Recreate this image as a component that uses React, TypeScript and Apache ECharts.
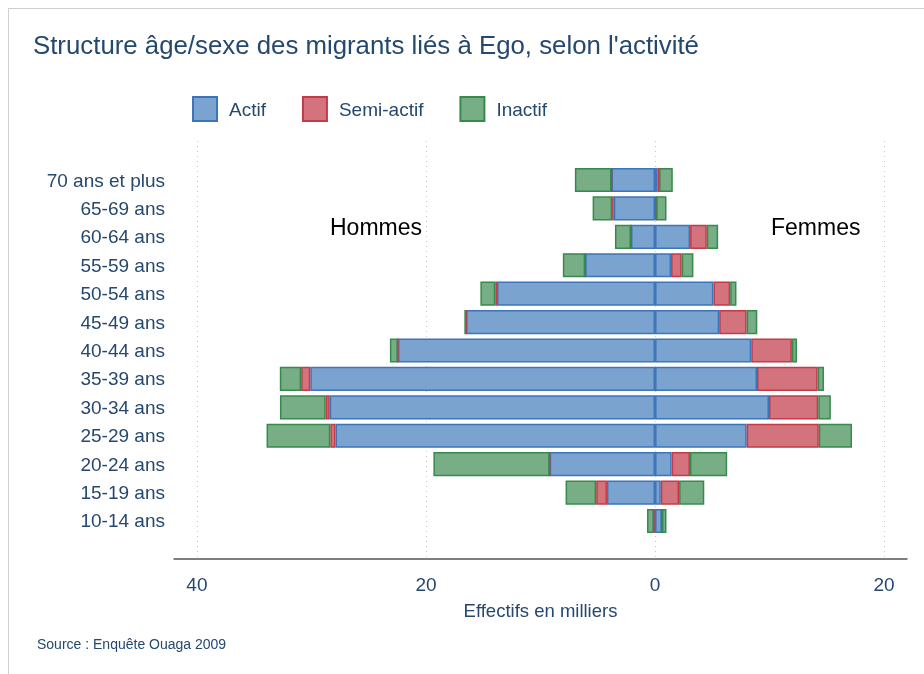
import React, { useEffect, useRef } from "react";
import * as echarts from "echarts";

const categories = [
  "10-14 ans", "15-19 ans", "20-24 ans", "25-29 ans", "30-34 ans", "35-39 ans",
  "40-44 ans", "45-49 ans", "50-54 ans", "55-59 ans", "60-64 ans", "65-69 ans", "70 ans et plus",
];
// Hommes (effectifs en milliers, affichés à gauche)
const hommesActif = [0.1, 4.2, 9.2, 27.9, 28.4, 30.1, 22.45, 16.5, 13.8, 6.1, 2.1, 3.6, 3.8];
const hommesSemi = [0, 0.94, 0, 0.45, 0.35, 0.8, 0, 0, 0.15, 0, 0, 0.15, 0];
const hommesInactif = [0.6, 2.67, 10.15, 5.57, 4.0, 1.86, 0.7, 0.15, 1.3, 1.95, 1.4, 1.7, 3.2];
// Femmes
const femmesActif = [0.6, 0.5, 1.45, 8.0, 9.95, 8.9, 8.4, 5.6, 5.1, 1.4, 3.06, 0.1, 0.2];
const femmesSemi = [0, 1.6, 1.6, 6.3, 4.3, 5.3, 3.55, 2.4, 1.46, 0.93, 1.46, 0, 0.15];
const femmesInactif = [0.4, 2.2, 3.25, 2.9, 1.1, 0.55, 0.45, 0.93, 0.55, 1.02, 0.99, 0.9, 1.2];

const xTicks = [-40, -20, 0, 20];
const xMin = -42;
const xMax = 22;

const TEXT = "#25486e";
const FONT = "'Liberation Sans', Arial, Helvetica, sans-serif";

const styles = {
  Actif: { color: "#7aa3cf", borderColor: "#3c75b9" },
  "Semi-actif": { color: "#d2737d", borderColor: "#c43a48" },
  Inactif: { color: "#77ae86", borderColor: "#368a4c" },
};

function barSeries(name: string, values: number[], sign: number) {
  const st = (styles as any)[name];
  return {
    type: "bar",
    name,
    stack: "pyramide",
    xAxisIndex: 0,
    yAxisIndex: 0,
    barCategoryGap: "15%",
    itemStyle: { color: st.color, borderColor: st.borderColor, borderWidth: 1.5 },
    emphasis: { disabled: true },
    data: values.map((v) => v * sign),
  };
}

export default function App() {
  const ref = useRef<HTMLDivElement>(null);
  useEffect(() => {
    if (!ref.current) return;
    const chart = echarts.init(ref.current, null, { renderer: "svg" });
    const H = 656;
    chart.setOption({
      animation: false,
      textStyle: { fontFamily: FONT },
      title: {
        text: "Structure âge/sexe des migrants liés à Ego, selon l'activité",
        left: 24,
        top: 23,
        padding: 0,
        textStyle: { fontFamily: FONT, fontSize: 25.8, fontWeight: "normal", color: TEXT },
      },
      legend: {
        data: ["Actif", "Semi-actif", "Inactif"],
        left: 183,
        top: 87,
        padding: 0,
        itemWidth: 24,
        itemHeight: 24,
        itemGap: 36,
        icon: "rect",
        selectedMode: false,
        textStyle: { fontFamily: FONT, fontSize: 19, color: TEXT, padding: [0, 0, 0, 7] },
      },
      grid: [
        { left: 165, right: 8, top: 156.8, bottom: H - 526.2 },
        { left: 165, right: 8, top: 132, bottom: H - 549.5 },
      ],
      xAxis: [
        { type: "value", gridIndex: 0, min: xMin, max: xMax, show: false },
        {
          type: "value",
          gridIndex: 1,
          min: xMin,
          max: xMax,
          name: "Effectifs en milliers",
          nameLocation: "middle",
          nameGap: 42,
          nameTextStyle: { fontFamily: FONT, fontSize: 18.5, color: TEXT },
          axisLine: { show: true, lineStyle: { color: "#555", width: 1.5 } },
          axisTick: { show: false, customValues: xTicks },
          axisLabel: {
            customValues: xTicks,
            formatter: (v: number) => String(Math.abs(v)),
            fontFamily: FONT,
            fontSize: 19,
            color: TEXT,
            margin: 16,
          },
          splitLine: { show: true, lineStyle: { color: "#c8c8c8", type: [1, 4], width: 1 } },
        },
      ],
      yAxis: [
        {
          type: "category",
          gridIndex: 0,
          data: categories,
          axisLine: { show: false },
          axisTick: { show: false },
          splitLine: { show: false },
          axisLabel: { fontFamily: FONT, fontSize: 19, color: TEXT, margin: 9 },
        },
        { type: "value", gridIndex: 1, show: false, min: 0, max: 1 },
      ],
      graphic: [
        {
          type: "text",
          left: 321,
          top: 218 - 11.5,
          style: { text: "Hommes", font: `23px ${FONT}`, fill: "#000" },
        },
        {
          type: "text",
          left: 762,
          top: 218 - 11.5,
          style: { text: "Femmes", font: `23px ${FONT}`, fill: "#000" },
        },
        {
          type: "text",
          left: 28,
          top: 635 - 7,
          style: { text: "Source : Enquête Ouaga 2009", font: `14px ${FONT}`, fill: TEXT },
        },
      ],
      series: [
        barSeries("Actif", hommesActif, -1),
        barSeries("Semi-actif", hommesSemi, -1),
        barSeries("Inactif", hommesInactif, -1),
        barSeries("Actif", femmesActif, 1),
        barSeries("Semi-actif", femmesSemi, 1),
        barSeries("Inactif", femmesInactif, 1),
      ],
    });
    return () => chart.dispose();
  }, []);
  return (
    <div
      style={{
        position: "fixed",
        left: 8,
        top: 8,
        width: 940,
        height: 700,
        borderTop: "1px solid #d0d0d0",
        borderLeft: "1px solid #d0d0d0",
      }}
    >
      <div ref={ref} style={{ width: 906, height: 656 }} />
    </div>
  );
}
